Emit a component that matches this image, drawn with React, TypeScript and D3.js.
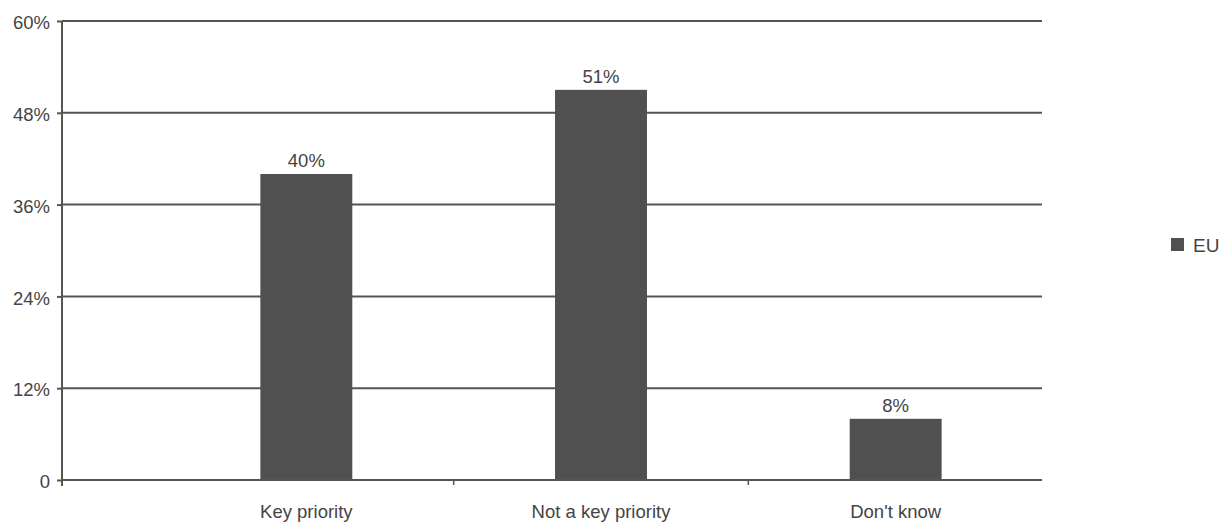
import * as d3 from 'd3';
import { useEffect, useRef } from 'react';

const categories = ['Key priority', 'Not a key priority', "Don't know"];
const euValues = [40, 51, 8];
const yTicks = [0, 12, 24, 36, 48, 60];
const seriesName = 'EU';

const App = () => {
  const svgRef = useRef<SVGSVGElement | null>(null);

  useEffect(() => {
    if (!svgRef.current) return;
    const svg = d3.select(svgRef.current);
    svg.selectAll('*').remove();

    const font = 'Liberation Sans, Arial, sans-serif';
    const fontSize = 18.5;
    const ink = '#555';
    const textInk = '#444';

    const axisLeft = 62;
    const plotRight = 1042;

    const y = d3.scaleLinear().domain([0, 60]).range([480, 21]);

    // categories sit to the right of an empty leading gap
    const x = d3
      .scaleBand()
      .domain(categories)
      .range([159, 1043])
      .paddingInner(0.688)
      .paddingOuter(0.344);

    // gridlines
    svg
      .append('g')
      .selectAll('line')
      .data(yTicks.filter((t) => t > 0))
      .enter()
      .append('line')
      .attr('x1', axisLeft)
      .attr('x2', plotRight)
      .attr('y1', (d) => y(d))
      .attr('y2', (d) => y(d))
      .attr('stroke', ink)
      .attr('stroke-width', 2);

    // bars
    svg
      .append('g')
      .selectAll('rect')
      .data(euValues)
      .enter()
      .append('rect')
      .attr('x', (_, i) => x(categories[i]) as number)
      .attr('y', (d) => y(d))
      .attr('width', x.bandwidth())
      .attr('height', (d) => y(0) - y(d))
      .attr('fill', '#505050');

    // value labels
    svg
      .append('g')
      .selectAll('text')
      .data(euValues)
      .enter()
      .append('text')
      .attr('x', (_, i) => (x(categories[i]) as number) + x.bandwidth() / 2)
      .attr('y', (d) => y(d) - 7)
      .attr('text-anchor', 'middle')
      .attr('font-family', font)
      .attr('font-size', fontSize)
      .attr('fill', textInk)
      .text((d) => `${d}%`);

    // y axis
    const yAxis = d3
      .axisLeft(y)
      .tickValues(yTicks)
      .tickSize(5)
      .tickPadding(7)
      .tickFormat((d) => (d === 0 ? '0' : `${d}%`));
    const gy = svg.append('g').attr('transform', `translate(${axisLeft},0)`).call(yAxis);
    gy.select('.domain').attr('stroke', ink).attr('stroke-width', 2).attr('d', `M0,${y(60)}V${y(0) + 6}`);
    gy.selectAll('.tick line').attr('stroke', ink).attr('stroke-width', 2);
    gy.selectAll('.tick text')
      .attr('font-family', font)
      .attr('font-size', fontSize)
      .attr('dy', '0.42em')
      .attr('fill', textInk);

    // x axis line
    svg
      .append('line')
      .attr('x1', axisLeft)
      .attr('x2', plotRight)
      .attr('y1', y(0))
      .attr('y2', y(0))
      .attr('stroke', ink)
      .attr('stroke-width', 2);

    // x tick marks between categories
    const boundaries = categories.slice(1).map((c) => (x(c) as number) - (x.step() * x.paddingInner()) / 2);
    svg
      .append('g')
      .selectAll('line')
      .data(boundaries)
      .enter()
      .append('line')
      .attr('x1', (d) => d)
      .attr('x2', (d) => d)
      .attr('y1', y(0))
      .attr('y2', y(0) + 5)
      .attr('stroke', ink)
      .attr('stroke-width', 1.5);

    // category labels
    svg
      .append('g')
      .selectAll('text')
      .data(categories)
      .enter()
      .append('text')
      .attr('x', (d) => (x(d) as number) + x.bandwidth() / 2)
      .attr('y', 518)
      .attr('text-anchor', 'middle')
      .attr('font-family', font)
      .attr('font-size', fontSize)
      .attr('fill', textInk)
      .text((d) => d);

    // legend
    const legend = svg.append('g').attr('transform', 'translate(1171,238)');
    legend.append('rect').attr('width', 13).attr('height', 13).attr('fill', '#505050');
    legend
      .append('text')
      .attr('x', 22)
      .attr('y', 14)
      .attr('font-family', font)
      .attr('font-size', 19)
      .attr('fill', textInk)
      .text(seriesName);
  }, []);

  return (
    <svg
      ref={svgRef}
      width={1228}
      height={525}
      style={{ position: 'absolute', left: 0, top: 0, background: '#fff' }}
    ></svg>
  );
};

export default App;
